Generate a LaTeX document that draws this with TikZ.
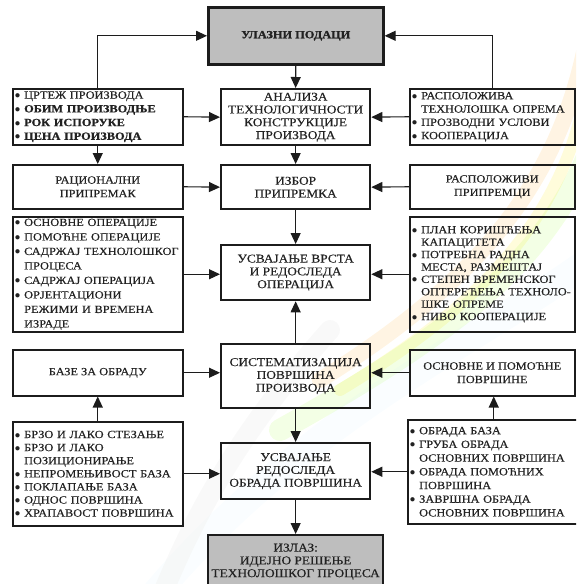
\documentclass[tikz,border=0pt]{standalone}
\usepackage{fontspec}
\setmainfont[FakeStretch=1.12, UprightFeatures={FakeBold=0.35}, BoldFeatures={FakeBold=0.8}]{Liberation Serif}
\usetikzlibrary{arrows.meta}
\definecolor{bord}{HTML}{1C1C1C}
\definecolor{txt}{HTML}{222222}
\definecolor{grayfill}{HTML}{BEBEBE}
\newcommand\itm[1]{\mbox{\makebox[0.72em][l]{\hspace*{-0.12em}$\bullet$}#1}}
\newcommand\cnt[1]{\mbox{\hspace*{0.72em}#1}}
\newcommand\fs[1]{\fontsize{11}{#1}\selectfont}
\newcommand\fsc[1]{\fontsize{11.9}{#1}\selectfont}
\begin{document}
\begin{tikzpicture}[x=1pt,y=-1pt,
  every node/.style={inner sep=0pt, text=txt},
  cbox/.style={draw=bord, line width=2.3pt, align=center, minimum width=149pt, font=\fsc{12.8}},
  sbox/.style={draw=bord, line width=1.5pt, align=center, font=\fs{13.5}},
  lbox/.style={sbox, align=left, inner xsep=3.5pt, text width=163pt},
  rbox/.style={sbox, align=left, inner xsep=3.5pt, text width=158pt},
  conn/.style={draw=bord, line width=1.1pt, -{Triangle[length=11pt,width=10pt]}},
]
\useasboundingbox (0,0) rectangle (576,584);
\clip (0,0) rectangle (576,584);
% faint background swoosh
\begin{scope}[line cap=round]
\draw[line width=16pt, orange!80!yellow, opacity=0.11] (590,20) .. controls (565,180) and (480,280) .. (320,380);
\draw[line width=12pt, yellow!90!orange, opacity=0.14] (590,70) .. controls (570,210) and (490,300) .. (340,390);
\draw[line width=22pt, green!45!yellow, opacity=0.10] (590,150) .. controls (545,260) and (460,330) .. (280,430);
\draw[line width=28pt, cyan!35, opacity=0.06] (590,260) .. controls (480,340) and (300,420) .. (150,600);
\draw[line width=20pt, black!6, opacity=0.4] (330,330) .. controls (250,420) and (200,500) .. (160,600);
\end{scope}
% center column
\node[cbox, fill=grayfill, line width=2.6pt, minimum width=175pt, minimum height=57pt, anchor=north west, font=\fs{13}\bfseries] (ul) at (207,6) {УЛАЗНИ ПОДАЦИ};
\node[cbox, anchor=north west, minimum height=56pt] (an) at (220,88) {АНАЛИЗА\\ТЕХНОЛОГИЧНОСТИ\\КОНСТРУКЦИЈЕ\\ПРОИЗВОДА};
\node[cbox, anchor=north west, minimum height=44pt] (iz) at (220,164) {ИЗБОР\\ПРИПРЕМКА};
\node[cbox, anchor=north west, minimum height=55pt] (uv) at (220,244) {УСВАЈАЊЕ ВРСТА\\И РЕДОСЛЕДА\\ОПЕРАЦИЈА};
\node[cbox, anchor=north west, minimum height=64pt] (si) at (220,343) {СИСТЕМАТИЗАЦИЈА\\ПОВРШИНА\\ПРОИЗВОДА};
\node[cbox, anchor=north west, minimum height=56pt] (ur) at (220,442) {УСВАЈАЊЕ\\РЕДОСЛЕДА\\ОБРАДА ПОВРШИНА};
\node[cbox, fill=grayfill, minimum width=175pt, minimum height=53pt, anchor=north west] (out) at (207,534) {ИЗЛАЗ:\\ИДЕЈНО РЕШЕЊЕ\\ТЕХНОЛОШКОГ ПРОЦЕСА};
% left column
\node[lbox, anchor=north west, minimum height=56pt, font=\fs{13.7}] (l1) at (12,88) {\itm{ЦРТЕЖ ПРОИЗВОДА}\\\itm{\textbf{ОБИМ ПРОИЗВОДЊЕ}}\\\itm{\textbf{РОК ИСПОРУКЕ}}\\\itm{\textbf{ЦЕНА ПРОИЗВОДА}}};
\node[sbox, anchor=north west, minimum width=170pt, minimum height=44pt] (l2) at (12,164) {РАЦИОНАЛНИ\\ПРИПРЕМАК};
\node[lbox, anchor=north west, minimum height=115pt, font=\fs{14.5}] (l3) at (12,216) {\itm{ОСНОВНЕ ОПЕРАЦИЈЕ}\\\itm{ПОМОЋНЕ ОПЕРАЦИЈЕ}\\\itm{САДРЖАЈ ТЕХНОЛОШКОГ}\\\cnt{ПРОЦЕСА}\\\itm{САДРЖАЈ ОПЕРАЦИЈА}\\\itm{ОРЈЕНТАЦИОНИ}\\\cnt{РЕЖИМИ И ВРЕМЕНА}\\\cnt{ИЗРАДЕ}};
\node[sbox, anchor=north west, minimum width=170pt, minimum height=46pt] (l4) at (12,349) {БАЗЕ ЗА ОБРАДУ};
\node[lbox, anchor=north west, minimum height=104pt, font=\fs{13.1}] (l5) at (12,421) {\itm{БРЗО И ЛАКО СТЕЗАЊЕ}\\\itm{БРЗО И ЛАКО}\\\cnt{ПОЗИЦИОНИРАЊЕ}\\\itm{НЕПРОМЕЊИВОСТ БАЗА}\\\itm{ПОКЛАПАЊЕ БАЗА}\\\itm{ОДНОС ПОВРШИНА}\\\itm{ХРАПАВОСТ ПОВРШИНА}};
% right column
\node[rbox, anchor=north west, minimum height=56pt, font=\fs{13.3}] (r1) at (409,88) {\itm{РАСПОЛОЖИВА}\\\cnt{ТЕХНОЛОШКА ОПРЕМА}\\\itm{ПРОЗВОДНИ УСЛОВИ}\\\itm{КООПЕРАЦИЈА}};
\node[sbox, anchor=north west, minimum width=165pt, minimum height=44pt] (r2) at (409,164) {РАСПОЛОЖИВИ\\ПРИПРЕМЦИ};
\node[rbox, anchor=north west, minimum height=115pt, font=\fs{12.4}] (r3) at (409,216) {\itm{ПЛАН КОРИШЋЕЊА}\\\cnt{КАПАЦИТЕТА}\\\itm{ПОТРЕБНА РАДНА}\\\cnt{МЕСТА, РАЗМЕШТАЈ}\\\itm{СТЕПЕН ВРЕМЕНСКОГ}\\\cnt{ОПТЕРЕЋЕЊА ТЕХНОЛО-}\\\cnt{ШКЕ ОПРЕМЕ}\\\itm{НИВО КООПЕРАЦИЈЕ}};
\node[sbox, anchor=north west, minimum width=165pt, minimum height=46pt] (r4) at (409,349) {ОСНОВНЕ И ПОМОЋНЕ\\ПОВРШИНЕ};
\node[rbox, anchor=north west, minimum height=104pt, text width=165pt, font=\fs{13.7}] (r5) at (407,419) {\itm{ОБРАДА БАЗА}\\\itm{ГРУБА ОБРАДА}\\\cnt{ОСНОВНИХ ПОВРШИНА}\\\itm{ОБРАДА ПОМОЋНИХ}\\\cnt{ПОВРШИНА}\\\itm{ЗАВРШНА ОБРАДА}\\\cnt{ОСНОВНИХ ПОВРШИНА}};
% connectors
\draw[conn] (ul.south) -- (an.north);
\draw[conn] (l1.north) |- (ul.west);
\draw[conn] (r1.north) |- (ul.east);
\draw[conn] (l1.east) -- (an.west);
\draw[conn] (r1.west) -- (an.east);
\draw[conn] (l1.south) -- (l2.north);
\draw[conn] (an.south) -- (iz.north);
\draw[conn] (l2.east) -- (iz.west);
\draw[conn] (r2.west) -- (iz.east);
\draw[conn] (iz.south) -- (uv.north);
\draw[conn] (l3.east) -- (l3.east -| uv.west);
\draw[conn] (r3.west) -- (r3.west -| uv.east);
\draw[conn] (si.north) -- (uv.south);
\draw[conn] (l4.east) -- (l4.east -| si.west);
\draw[conn] (r4.west) -- (r4.west -| si.east);
\draw[conn] (l5.north) -- (l4.south);
\draw[conn] (r5.north) -- (r5.north |- r4.south);
\draw[conn] (si.south) -- (ur.north);
\draw[conn] (l5.east) -- (l5.east -| ur.west);
\draw[conn] (r5.west) -- (r5.west -| ur.east);
\draw[conn] (ur.south) -- (out.north);
\end{tikzpicture}
\end{document}
